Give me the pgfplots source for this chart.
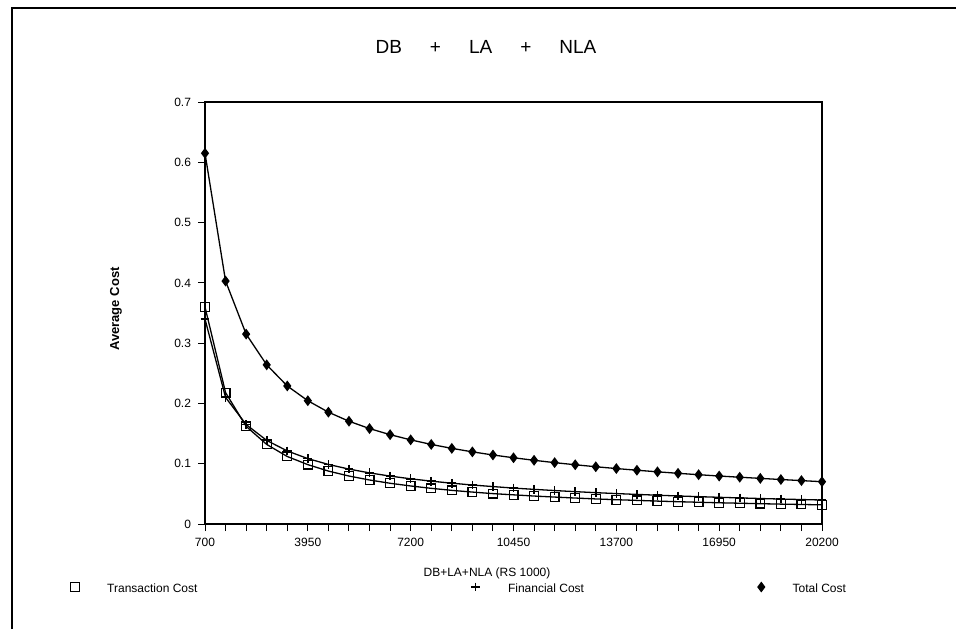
\documentclass[border=0pt]{standalone}
\usepackage{fontspec}
\setmainfont{Liberation Sans}
\usepackage{pgfplots}
\pgfplotsset{compat=1.18}
\begin{document}
\begin{tikzpicture}[x=0.5pt,y=0.5pt]
\useasboundingbox (0,0) rectangle (956,629);
\draw[line width=1.1pt] (12,0) -- (12,621) -- (956,621);
\node[font=\fontsize{9.5}{11}\selectfont] at (486,582) {DB\hspace{14pt}+\hspace{14pt}LA\hspace{14pt}+\hspace{14pt}NLA};
\node[font=\bfseries\fontsize{6.5}{8}\selectfont, rotate=90] at (116,320) {Average Cost};
\node[font=\fontsize{6}{7}\selectfont] at (487,56) {DB+LA+NLA (RS 1000)};
\begin{axis}[
  at={(102.5pt,52.5pt)}, anchor=south west,
  scale only axis, width=308.5pt, height=211pt,
  xmin=700, xmax=20200, ymin=0, ymax=0.7,
  scaled x ticks=false, scaled y ticks=false,
  xtick={700,3950,7200,10450,13700,16950,20200},
  xticklabels={700,3950,7200,10450,13700,16950,20200},
  minor x tick num=4,
  ytick={0,0.1,0.2,0.3,0.4,0.5,0.6,0.7},
  yticklabels={0,0.1,0.2,0.3,0.4,0.5,0.6,0.7},
  xtick pos=bottom, ytick pos=left,
  tick align=outside,
  major tick length=3.5pt, minor tick length=3.5pt,
  tick style={black, line width=0.5pt},
  axis line style={line width=0.6pt},
  /pgf/number format/assume math mode=true,
  ticklabel style={font=\fontsize{6}{7}\selectfont},
  every axis plot/.append style={black, line width=0.65pt},
  legend columns=3,
  legend cell align=left,
  legend style={at={(-0.2188,-0.1564)}, anchor=west, draw=none, fill=none, inner sep=0pt,
    font=\fontsize{6}{7}\selectfont,
    /tikz/every odd column/.style={column sep=12pt}},
  legend image code/.code={\draw[#1, only marks] plot coordinates {(0pt,1.5pt)};},
]
\addplot[mark=square, mark size=2.2pt, mark options={solid, line width=0.6pt}] coordinates {
(700,0.360) (1350,0.218) (2000,0.162) (2650,0.132) (3300,0.112) (3950,0.0985)
(4600,0.0878) (5250,0.0796) (5900,0.0730) (6550,0.0676) (7200,0.0631) (7850,0.0592)
(8500,0.0558) (9150,0.0530) (9800,0.0504) (10450,0.0484) (11100,0.0464) (11750,0.0447)
(12400,0.0431) (13050,0.0416) (13700,0.0403) (14350,0.0392) (15000,0.0380) (15650,0.0370)
(16300,0.0361) (16950,0.0352) (17600,0.0345) (18250,0.0337) (18900,0.0330) (19550,0.0324)
(20200,0.0318)
};
\addlegendentry{\makebox[180pt][l]{Transaction Cost}}
\addplot[mark=+, mark size=2.2pt, mark options={solid, line width=0.8pt}] coordinates {
(700,0.340) (1350,0.210) (2000,0.165) (2650,0.1387) (3300,0.1212) (3950,0.1085)
(4600,0.0988) (5250,0.0911) (5900,0.0848) (6550,0.0795) (7200,0.0750) (7850,0.0711)
(8500,0.0677) (9150,0.0647) (9800,0.0621) (10450,0.0596) (11100,0.0575) (11750,0.0555)
(12400,0.0537) (13050,0.0520) (13700,0.0505) (14350,0.0491) (15000,0.0478) (15650,0.0465)
(16300,0.0454) (16950,0.0443) (17600,0.0433) (18250,0.0423) (18900,0.0414) (19550,0.0406)
(20200,0.0398)
};
\addlegendentry{\makebox[123pt][l]{Financial Cost}}
\addplot[mark=diamond*, mark size=2.2pt, mark options={solid, fill=black}] coordinates {
(700,0.615) (1350,0.403) (2000,0.315) (2650,0.264) (3300,0.229) (3950,0.2045)
(4600,0.1855) (5250,0.1705) (5900,0.1583) (6550,0.1482) (7200,0.1396) (7850,0.1320)
(8500,0.1255) (9150,0.1197) (9800,0.1145) (10450,0.1099) (11100,0.1057) (11750,0.1018)
(12400,0.0983) (13050,0.0950) (13700,0.0920) (14350,0.0892) (15000,0.0866) (15650,0.0841)
(16300,0.0818) (16950,0.0796) (17600,0.0776) (18250,0.0757) (18900,0.0738) (19550,0.0720)
(20200,0.0702)
};
\addlegendentry{Total Cost}
\end{axis}
\end{tikzpicture}
\end{document}
